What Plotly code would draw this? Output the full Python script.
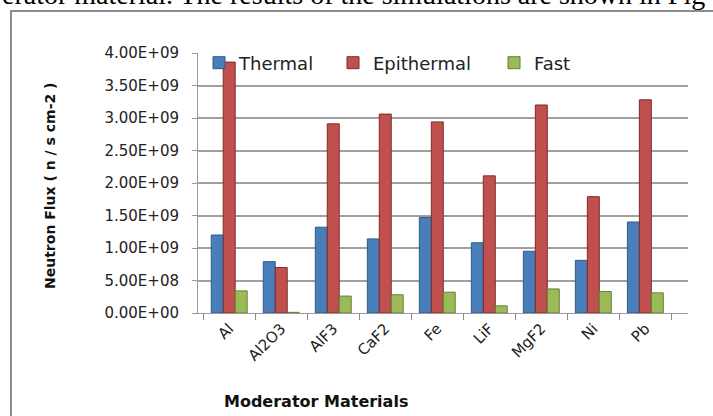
import plotly.graph_objects as go

categories = ["Al", "Al2O3", "AlF3", "CaF2", "Fe", "LiF", "MgF2", "Ni", "Pb"]
thermal = [1.20e9, 0.79e9, 1.32e9, 1.14e9, 1.47e9, 1.08e9, 0.95e9, 0.81e9, 1.40e9]
epithermal = [3.86e9, 0.70e9, 2.91e9, 3.06e9, 2.94e9, 2.11e9, 3.20e9, 1.79e9, 3.28e9]
fast = [0.34e9, 0.01e9, 0.26e9, 0.28e9, 0.32e9, 0.11e9, 0.37e9, 0.33e9, 0.31e9]
tick_vals = [0, 5e8, 1e9, 1.5e9, 2e9, 2.5e9, 3e9, 3.5e9, 4e9]
tick_text = ["0.00E+00", "5.00E+08", "1.00E+09", "1.50E+09", "2.00E+09",
             "2.50E+09", "3.00E+09", "3.50E+09", "4.00E+09"]

W, H = 713, 416
L, R, T, B = 198, 25, 53, 103
PW, PH = W - L - R, H - T - B

def px(xpix):
    return (xpix - L) / PW

def py(ypix):
    return (H - B - ypix) / PH

fig = go.Figure()
series = [("Thermal", thermal, "#4A7EBB", "#2E5A8C", "legend"),
          ("Epithermal", epithermal, "#C0504D", "#7F2B29", "legend2"),
          ("Fast", fast, "#9BBB59", "#667F34", "legend3")]
for name, vals, col, edge, lg in series:
    fig.add_trace(go.Bar(x=categories, y=vals, name=name, legend=lg,
                         marker=dict(color=col, line=dict(color=edge, width=1))))

legend_font = dict(family="DejaVu Sans", size=18, color="#222")
fig.update_layout(
    width=W, height=H,
    margin=dict(l=L, r=R, t=T, b=B),
    paper_bgcolor="white", plot_bgcolor="white",
    barmode="group", bargap=0.31, bargroupgap=0,
    font=dict(family="DejaVu Sans", size=15, color="#222"),
    legend=dict(x=px(199), y=py(63), xanchor="left", yanchor="middle",
                orientation="h", font=legend_font, bgcolor="rgba(0,0,0,0)"),
    legend2=dict(x=px(333), y=py(63), xanchor="left", yanchor="middle",
                 orientation="h", font=legend_font, bgcolor="rgba(0,0,0,0)"),
    legend3=dict(x=px(494), y=py(63), xanchor="left", yanchor="middle",
                 orientation="h", font=legend_font, bgcolor="rgba(0,0,0,0)"),
    showlegend=True,
)
fig.update_xaxes(range=[-0.6, 8.82], tickangle=-45, tickson="boundaries",
                 ticks="outside", ticklen=6, tickcolor="#888",
                 showline=True, linecolor="#999", linewidth=1,
                 tickfont=dict(family="DejaVu Sans", size=15, color="#222"))
fig.update_yaxes(range=[0, 4e9], tickvals=tick_vals, ticktext=tick_text,
                 showgrid=True, gridcolor="#A0A0A0", gridwidth=1.5,
                 showline=True, linecolor="#999", ticks="outside", ticklen=5,
                 tickcolor="#999", zeroline=False, ticklabelstandoff=10,
                 tickfont=dict(family="DejaVu Sans", size=15, color="#222"))

fig.add_annotation(text="Neutron Flux ( n / s cm-2 )", textangle=-90,
                   xref="paper", yref="paper", x=px(50), y=py(186),
                   xanchor="center", yanchor="middle", showarrow=False,
                   font=dict(family="DejaVu Sans", size=14, color="#111", weight="bold"))
fig.add_annotation(text="Moderator Materials",
                   xref="paper", yref="paper", x=px(222), y=py(401),
                   xanchor="left", yanchor="middle", showarrow=False,
                   font=dict(family="DejaVu Sans", size=16, color="#111", weight="bold"))
fig.add_annotation(text="erator material. The results of the simulations are shown in Fig",
                   xref="paper", yref="paper", x=px(0), y=py(-5),
                   xanchor="left", yanchor="middle", showarrow=False,
                   font=dict(family="Liberation Serif", size=28, color="black"))
fig.add_shape(type="rect", xref="paper", yref="paper",
              x0=px(11), x1=px(730), y0=py(430), y1=py(11),
              line=dict(color="#8C8C8C", width=2), fillcolor="rgba(0,0,0,0)", layer="below")

fig.write_html("out.html", config={"displayModeBar": False},
               post_script="document.body.style.margin='0';")
